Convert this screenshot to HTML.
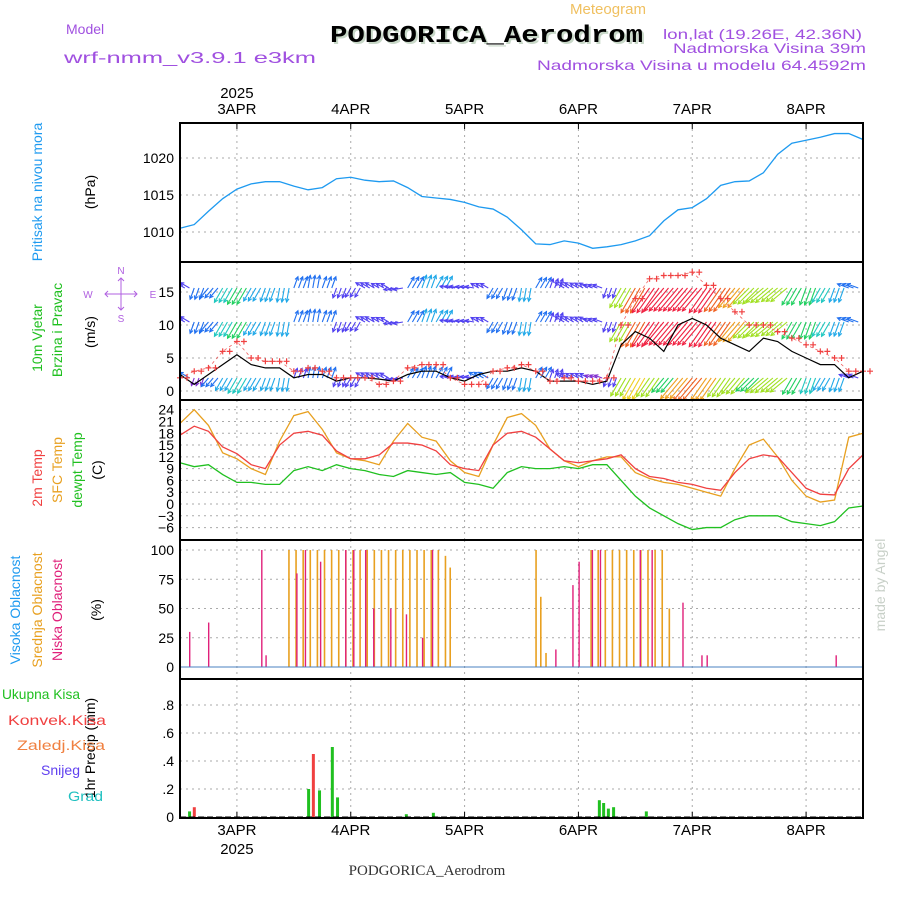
<!DOCTYPE html>
<html><head><meta charset="utf-8"><style>
html,body{margin:0;padding:0;background:#fff}
svg{display:block}
text{font-family:"Liberation Sans",sans-serif}
</style></head><body>
<svg id="c" width="900" height="900" viewBox="0 0 900 900" xmlns="http://www.w3.org/2000/svg">
<defs><clipPath id="windclip"><rect x="180" y="262" width="683" height="138"/></clipPath></defs>
<g>
<text x="570" y="14" font-size="15" fill="#f0c060" textLength="76" lengthAdjust="spacingAndGlyphs">Meteogram</text>
<text x="66" y="34" font-size="14" fill="#a050e0">Model</text>
<text x="64" y="63" font-size="16" fill="#a050e0" textLength="252" lengthAdjust="spacingAndGlyphs">wrf-nmm_v3.9.1 e3km</text>
<text x="332" y="44" font-size="24" font-weight="bold" fill="#c8d8c8" style="font-family:'Liberation Mono',monospace" textLength="313" lengthAdjust="spacingAndGlyphs">PODGORICA_Aerodrom</text>
<text x="330" y="42" font-size="24" font-weight="bold" fill="#000" style="font-family:'Liberation Mono',monospace" textLength="313" lengthAdjust="spacingAndGlyphs">PODGORICA_Aerodrom</text>
<text x="663" y="39" font-size="14" fill="#a050e0" textLength="199" lengthAdjust="spacingAndGlyphs">lon,lat (19.26E, 42.36N)</text>
<text x="673" y="53" font-size="14" fill="#a050e0" textLength="193" lengthAdjust="spacingAndGlyphs">Nadmorska Visina 39m</text>
<text x="537" y="70" font-size="14" fill="#a050e0" textLength="329" lengthAdjust="spacingAndGlyphs">Nadmorska Visina u modelu 64.4592m</text>
</g>
<g id="grid"></g>
<g id="marks"></g>
<g id="frames"></g>
<g id="labels"></g>
</svg>
<script>
const NS="http://www.w3.org/2000/svg";
const svg=document.getElementById('c');
const G={grid:document.getElementById('grid'),marks:document.getElementById('marks'),frames:document.getElementById('frames'),labels:document.getElementById('labels')};
// ---- data (3-hourly from 2 APR 12Z) ----
const dayLabels=["3APR","4APR","5APR","6APR","7APR","8APR"];
const pressure=[1010.5,1011,1012.8,1014.5,1015.8,1016.5,1016.8,1016.8,1016.2,1015.7,1016,1017.2,1017.4,1017,1016.8,1016.9,1016,1014.8,1014.6,1014.4,1014,1013.4,1013.1,1012,1010.3,1008.4,1008.3,1008.8,1008.5,1007.8,1008,1008.3,1008.8,1009.5,1011.5,1013,1013.3,1014.5,1016.3,1016.8,1016.9,1018,1020.5,1022,1022.4,1022.8,1023.3,1023.3,1022.5];
const temp2m=[17.5,19.8,18.5,14.5,12.8,10,9,15,18,18.5,17.5,13.5,11.5,11.5,12.5,15.5,15.5,15,13.5,10,9,8.5,15,18,18.5,17,14,11,10.5,11,11.5,12.5,9,7,6.5,5.5,5,4,3.5,8,11.5,12.5,12,8,4,2.5,2.3,9,12.5];
const tempSfc=[20.5,24,20,13,11.5,9,7.5,16,22.5,23.5,19,13,11.5,11,10,16,20.5,17,16,11,8,7,15,22,23,20,14,11,9.5,11,12,12,8,6.5,5.5,5,4,3,2,9,15,16.5,12,6,2,0.5,1,17,18];
const tempDew=[10.5,9.5,10,7.5,5.5,5.5,5,5,8.5,9.5,8.5,10,9,8.5,7.5,7,8.5,8,7.5,8,5.5,5,4,8,9.5,9,9,9.5,9,10,10,6,2,-1,-3,-5,-6.5,-6,-6,-4,-3,-3,-3,-4.5,-5,-5.5,-4.5,-1,-0.5];
const windSpeed=[2.5,1,2.5,4,5.5,4,3.5,3.5,2,2.5,2.5,1.5,2,2,1.8,1.5,2.5,3,3,2,1.5,2.5,3,3,3.5,3,1.5,1.5,1.5,1,1.5,7,9,8,6,10,11,10,8,7,6,8,7.5,6,5,4,4,2,3];
const windGust=[2,3,3.5,6,7.5,5,4.5,4.5,3,3.5,3,2,2,2,1,1.5,3.5,4,4,2,1,1,3,3.5,4,3,1.5,2,1.5,1.5,2,10,14,17,17.5,17.5,18,16,14,12,10,10,9,8,7,6,5,3,3];
const windDir=[300,200,220,210,210,210,200,190,20,10,20,200,210,300,300,260,30,20,30,280,280,300,210,200,190,30,20,300,300,290,200,210,210,215,220,220,220,215,215,220,225,230,230,210,200,210,200,290,30];
// cloud bars: hour, value
const midHours=[22.8,24.3,25.8,27.3,28.8,30.3,31.8,33.3,34.8,36.3,37.8,39.3,40.8,42.3,43.8,45.3,46.8,48.3,49.8,51.3,52.8,54.3,55.8,56.8,74.9,75.9,77.0,86.5,88,89.5,91,92.5,94,95.5,97,98.5,100,101.5,103];
const midVals=[100,100,100,100,100,100,100,100,100,100,100,100,100,100,100,100,100,100,100,100,100,100,95,85,100,60,12,100,100,100,100,100,100,100,100,100,100,100,50];
const lowHours=[1.9,5.9,17.1,18,24.5,26.3,29.5,34.8,36.5,39,40.7,44.3,47.6,51,53.1,79.1,82.7,84,86.8,88.5,96.9,99.4,105.9,109.9,111,138.2];
const lowVals=[30,38,100,10,80,100,90,100,100,100,50,50,45,25,100,15,70,90,100,100,100,100,55,10,10,10];
const precipHours=[1.7,26.8,29.1,31.8,32.9,47.4,53.1,88.1,89,90,91.1,98];
const precipTotal=[0.04,0.2,0.19,0.5,0.14,0.02,0.03,0.12,0.1,0.06,0.07,0.04];
const convHours=[2.7,27.8];
const convVals=[0.07,0.45];
// ---- axes ----
const X0=180,X1=863,HOURS=144;
const xh=h=>X0+h*(X1-X0)/HOURS;
const xi=i=>xh(i*3);
const dayX=d=>xh(12+24*d);
const yP=v=>158+(1020-v)*7.4;
const yW=v=>391-v*6.6;
const yT=v=>504-v*3.93;
const yC=v=>667-v*1.17;
const yR=v=>817-v*140;
const panels=[[123,262],[262,400],[400,540],[540,679],[679,818]];
function el(tag,attrs,parent){const e=document.createElementNS(NS,tag);for(const k in attrs)e.setAttribute(k,attrs[k]);(parent||G.marks).appendChild(e);return e;}
function txt(s,x,y,attrs,parent){const t=el('text',Object.assign({x:x,y:y},attrs),parent||G.labels);t.textContent=s;return t;}
// grid
panels.forEach(([a,b],pi)=>{
 for(let d=0;d<6;d++){const l=el('line',{x1:dayX(d),x2:dayX(d),y1:a,y2:b,stroke:'#aaa','stroke-dasharray':'2,4'},G.grid);
 
 }
});
function hgrid(vals,fy,fmt){vals.forEach(v=>{const y=fy(v);const l=el('line',{x1:X0,x2:X1,y1:y,y2:y,stroke:'#aaa','stroke-dasharray':'2,4'},G.grid);
 
 
 const t=txt(fmt(v),X0-6,y+5,{'font-size':14,'text-anchor':'end',fill:'#000'});
 
 });}
const pTicks=[1010,1015,1020],wTicks=[0,5,10,15],tTicks=[24,21,18,15,12,9,6,3,0,-3,-6],cTicks=[0,25,50,75,100],rTicks=[0,0.2,0.4,0.6,0.8];
hgrid(pTicks,yP,String);hgrid(wTicks,yW,String);hgrid(tTicks,yT,v=>v<0?'\u2212'+(-v):String(v));hgrid(cTicks,yC,String);hgrid(rTicks,yR,v=>v===0?'0':String(v).replace(/^0/,''));
// day ticks and labels
for(let d=0;d<6;d++){const x=dayX(d);
 el('line',{x1:x,x2:x,y1:123,y2:129,stroke:'#000'},G.frames);el('line',{x1:x,x2:x,y1:812,y2:818,stroke:'#000'},G.frames);
 const t=txt(dayLabels[d],x,114,{'font-size':15,'text-anchor':'middle'});
 
 
 const b=txt(dayLabels[d],x,835,{'font-size':15,'text-anchor':'middle'});
 
 }
txt('2025',dayX(0),98,{'font-size':15,'text-anchor':'middle'});
txt('2025',dayX(0),854,{'font-size':15,'text-anchor':'middle'});
// wind vectors (drawn first, clipped)
const wg=el('g',{'clip-path':'url(#windclip)'});
function spdColor(s){const c=['#8030d0','#5040f0','#2070f0','#20a8e8','#20c8c0','#20d060','#a0e020','#f0d020','#f0a020','#f06020','#f02040'];return c[Math.max(0,Math.min(10,Math.floor((s-2)/1.6)))];}
[[288,1.0,3],[322,1.0,3],[378,0.0,2]].forEach(([base,gf,add])=>{
 windSpeed.forEach((s0,i)=>{const s=(gf>0?windGust[i]:s0*1.4)+add;const a=windDir[i]*Math.PI/180;
  for(let k=0;k<3;k++){const x=xi(i)+k*4.74;const L=Math.min(30,3+s*1.5);
  const x2=x+Math.sin(a)*L,y2=base-Math.cos(a)*L;const col=spdColor(s);
  const b=el('line',{x1:x,y1:base,x2:x2,y2:y2,stroke:col,'stroke-width':1.1},wg);
  
  
  const h1=a+Math.PI*0.85,h2=a-Math.PI*0.85;
  const hd=el('path',{d:`M${x2+Math.sin(h1)*4},${y2-Math.cos(h1)*4}L${x2},${y2}L${x2+Math.sin(h2)*4},${y2-Math.cos(h2)*4}`,stroke:col,fill:'none','stroke-width':1.1},wg);
  
  }});
});
// lines
function line(arr,fy,color,name,w){const p=el('polyline',{points:arr.map((v,i)=>xi(i)+','+fy(v)).join(' '),fill:'none',stroke:color,'stroke-width':w||1.3});
 
 return p;}
line(pressure,yP,'#1e9af0','pressure-line');
line(tempSfc,yT,'#e8a020','sfc-temp-line');
line(temp2m,yT,'#f04040','temp-2m-line');
line(tempDew,yT,'#20c020','dewpoint-line');
line(windSpeed,yW,'#000','wind-speed-line',1.2);
line(windGust,yW,'#f06060','wind-gust-line',0.8).setAttribute('stroke-dasharray','3,3');
windGust.forEach((v,i)=>{for(const dx of [0,7]){const x=xi(i)+dx,y=yW(v);
 const g=el('path',{d:`M${x-3},${y}h6M${x},${y-3}v6`,stroke:'#f04040','stroke-width':1.2});
 
 }});
// clouds
function bars(hours,vals,fy,color,name,dx,w){hours.forEach((h,i)=>{const x=xh(h)+dx;const r=el('rect',{x:x,y:fy(vals[i]),width:w,height:fy(0)-fy(vals[i]),fill:color});
 
 });}
bars(midHours,midVals,yC,'#e8a020','mid-cloud-bar',0,1.6);
bars(lowHours,lowVals,yC,'#e0207a','low-cloud-bar',0,1.4);
el('line',{x1:X0,x2:X1,y1:667,y2:667,stroke:'#4a80c0','stroke-width':1});
bars(precipHours,precipTotal,yR,'#20c020','total-precip-bar',0,3);
bars(convHours,convVals,yR,'#f04040','convective-precip-bar',0,3);
// frames
panels.forEach(([a,b])=>{const r=el('rect',{x:X0,y:a,width:X1-X0,height:b-a,fill:'none',stroke:'#000','stroke-width':2},G.frames);
 
 });
el('line',{x1:X0,x2:X1,y1:817,y2:817,stroke:'#000','stroke-dasharray':'6,3'},G.frames);
// side labels
function vlab(s,x,y,color,size,name){const t=txt(s,x,y,{'font-size':size||13,fill:color,'text-anchor':'middle',transform:`rotate(-90 ${x} ${y})`});
 
 }
vlab('Pritisak na nivou mora',42,192,'#1e9af0',14,'pressure-axis-title');
vlab('(hPa)',95,192,'#000',14,'pressure-unit');
vlab('10m Vjetar',42,338,'#20c020',14,'wind-title-1');
vlab('Brzina i Pravac',62,330,'#20c020',14,'wind-title-2');
vlab('(m/s)',95,332,'#000',14,'wind-unit');
vlab('2m Temp',42,478,'#f04040',14,'temp-2m-title');
vlab('SFC Temp',62,470,'#e8a020',14,'sfc-temp-title');
vlab('dewpt Temp',82,470,'#20c020',14,'dewpt-title');
vlab('(C)',102,470,'#000',14,'temp-unit');
vlab('Visoka Oblacnost',20,610,'#1e9af0',14,'high-cloud-title');
vlab('Srednja Oblacnost',42,610,'#e8a020',14,'mid-cloud-title');
vlab('Niska Oblacnost',62,610,'#e0207a',14,'low-cloud-title');
vlab('(%)',101,610,'#000',14,'cloud-unit');
vlab('1hr Precip (mm)',95,748,'#000',14,'precip-unit');
vlab('made by Angel',885,585,'#c8d0c8',14,'credit');
[['Ukupna Kisa','#20c020',699,2,78],['Konvek.Kisa','#f04040',725,8,98],['Zaledj.Kisa','#f08040',750,17,88],['Snijeg','#6040f0',775,41,39],['Grad','#20c0c0',801,68,35]].forEach(([s,c,y,x,w])=>{
 const t=txt(s,x,y,{'font-size':14,fill:c,textLength:w,lengthAdjust:'spacingAndGlyphs'});
 
 });
// compass
const cg=el('g',{stroke:'#b060e0','stroke-width':1,fill:'none'},G.labels);
el('path',{d:'M105,294h32M121,278v32M108,291l-3,3l3,3M134,291l3,3l-3,3M118,281l3,-3l3,3M118,307l3,3l3,-3'},cg);
const cl=[['N',121,274],['S',121,322],['W',88,298],['E',153,298]];
cl.forEach(([s,x,y])=>{const t=txt(s,x,y,{'font-size':10,fill:'#b060e0','text-anchor':'middle'});
 
 });
txt('PODGORICA_Aerodrom',427,875,{'font-size':15,'text-anchor':'middle',style:"font-family:'Liberation Serif',serif",fill:'#333'});
</script>
</body></html>
